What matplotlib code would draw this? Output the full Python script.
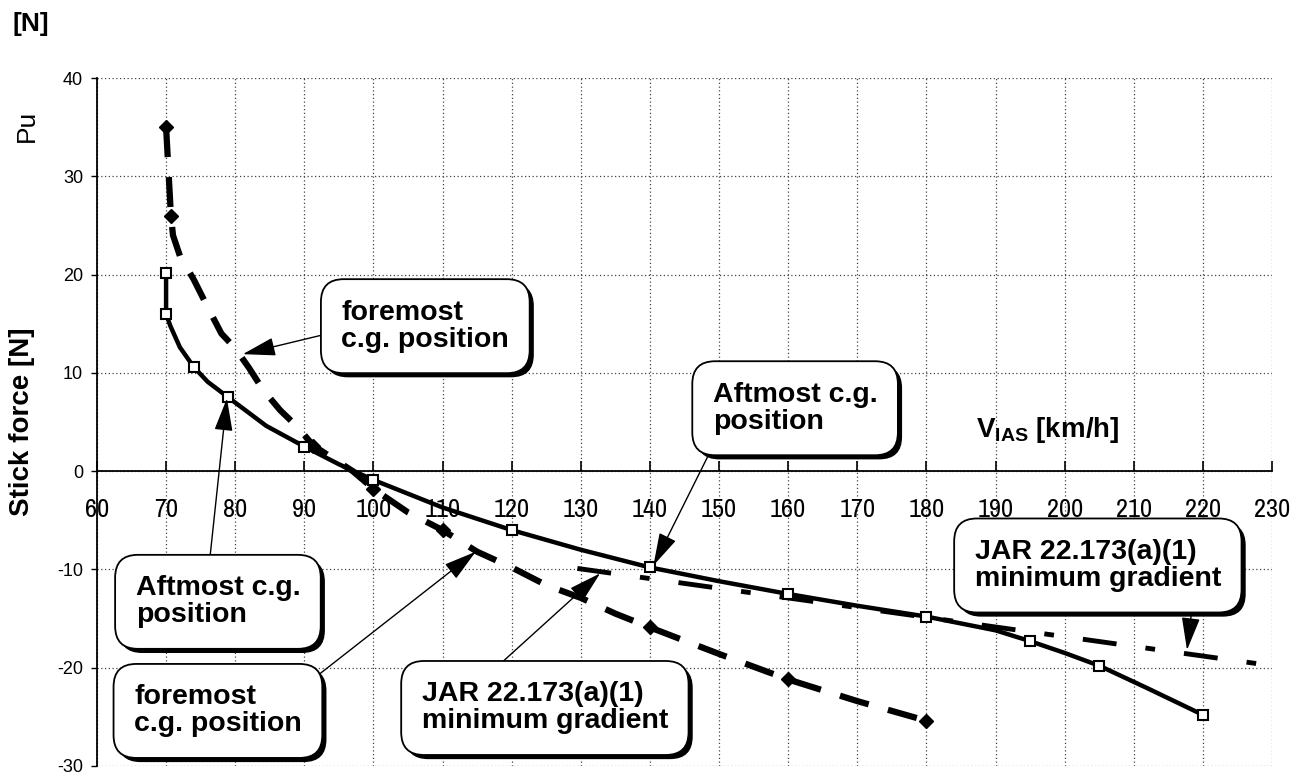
import numpy as np
import matplotlib
matplotlib.use("Agg")
import matplotlib.pyplot as plt
from matplotlib import patheffects

plt.rcParams['font.family'] = ['Liberation Sans', 'DejaVu Sans']
plt.rcParams['axes.unicode_minus'] = False

# aftmost c.g. position (solid line, open squares)
aft_v = [70, 70, 70.6, 72, 74, 76, 79, 84.5, 90, 95, 100, 110, 120, 130, 140,
         150, 160, 170, 180, 190, 195, 200, 205, 212, 220]
aft_f = [20.2, 16.0, 14.8, 12.6, 10.6, 9.1, 7.5, 4.6, 2.5, 0.7, -0.9, -3.7, -6.0,
         -8.0, -9.8, -11.2, -12.5, -13.7, -14.8, -16.2, -17.3, -18.5, -19.8, -22.1, -24.8]
aft_marks = [0, 1, 4, 6, 8, 10, 12, 14, 16, 18, 20, 22, 24]

# foremost c.g. position (heavy dashes, diamonds)
fore_v = [70, 70.7, 71, 72, 74, 76, 78, 80, 82, 84, 86.5, 89, 91.3, 97, 100, 105,
          110, 115, 120, 125, 130, 135, 140, 150, 160, 170, 180]
fore_f = [35.0, 26.0, 24.0, 21.9, 19.5, 16.7, 14.0, 12.5, 10.5, 8.3, 6.2, 4.5, 2.6,
          0.0, -1.8, -4.2, -6.0, -8.2, -9.8, -11.6, -12.9, -14.5, -15.9, -18.6,
          -21.2, -23.4, -25.4]
fore_marks = [0, 1, 12, 14, 16, 22, 24, 26]

# JAR 22.173(a)(1) minimum gradient
jar_v = [129.5, 230]
jar_f = [-9.9, -19.8]

x_ticks = np.arange(60, 231, 10)
y_ticks = np.arange(-30, 41, 10)

fig = plt.figure(figsize=(12.98, 7.77), dpi=100)
ax = fig.add_axes([0.0747, 0.0142, 0.9053, 0.8854])

ax.set_xlim(60, 230)
ax.set_ylim(-30, 40)
ax.set_xticks(x_ticks)
ax.set_yticks(y_ticks)

ax.grid(True, color='#444444', lw=0.9, linestyle=(0, (1, 2)))
for s in ['top', 'right']:
    ax.spines[s].set_visible(False)
ax.spines['bottom'].set_position(('data', 0))
ax.spines['bottom'].set_linewidth(1.3)
ax.spines['left'].set_linewidth(1.3)

ax.tick_params(axis='x', direction='in', length=7, width=1.2, pad=19)
ax.tick_params(axis='y', direction='out', length=4, width=1.0, labelsize=13, pad=6)
for lab in ax.get_xticklabels():
    lab.set_family(['Liberation Sans Narrow', 'Archivo Narrow', 'DejaVu Sans'])
    lab.set_fontstretch('condensed')
    lab.set_fontsize(19)

ax.plot(aft_v, aft_f, color='black', lw=3.2, marker='s', markevery=aft_marks,
        ms=7, mfc='white', mec='black', mew=1.5, zorder=4)
ax.plot(fore_v, fore_f, color='black', lw=4.5, linestyle=(0, (4.8, 3.2)),
        marker='D', markevery=fore_marks, ms=7, mfc='black', mec='black', zorder=3)
ax.plot(jar_v, jar_f, color='black', lw=3.5, linestyle=(0, (7, 6, 2, 6)), zorder=3)

ax.text(197.6, 4.2, r'V$_{\mathregular{IAS}}$ [km/h]', fontsize=20, fontweight='bold',
        ha='center', va='center')

boxes = [
    ("foremost\nc.g. position", (107.5, 14.75), (81.1, 11.9), (0.0, 0.42)),
    ("Aftmost c.g.\nposition", (161.0, 6.4), (140.5, -9.6), (0.05, 0.09)),
    ("Aftmost c.g.\nposition", (77.5, -13.3), (78.8, 7.4), (0.44, 1.0)),
    ("foremost\nc.g. position", (77.5, -24.4), (114.8, -8.2), (0.99, 0.91)),
    ("JAR 22.173(a)(1)\nminimum gradient", (124.8, -24.1), (132.8, -10.4), (0.24, 1.0)),
    ("JAR 22.173(a)(1)\nminimum gradient", (204.8, -9.6), (217.7, -18.2), (0.89, 0.0)),
]
for txt, xytext, xy, rel in boxes:
    ann = ax.annotate(txt, xy=xy, xytext=xytext, fontsize=20.5, fontweight='bold',
                      ha='center', va='center', multialignment='left', linespacing=1.05,
                      bbox=dict(boxstyle='round,pad=0.72,rounding_size=0.8',
                                fc='white', ec='black', lw=1.3),
                      arrowprops=dict(arrowstyle='-|>,head_length=1.0,head_width=0.28',
                                      color='black', lw=1.0, relpos=rel,
                                      shrinkA=0, shrinkB=0),
                      zorder=6)
    ann.get_bbox_patch().set_path_effects([
        patheffects.withSimplePatchShadow(offset=(3, -3), shadow_rgbFace='black', alpha=1.0)])

fig.text(0.024, 0.969, '[N]', fontsize=19, fontweight='bold', ha='center', va='center')
fig.text(0.021, 0.838, 'Pu', fontsize=19, rotation=90, ha='center', va='center')
fig.text(0.017, 0.457, 'Stick force [N]', fontsize=20, fontweight='bold', rotation=90,
         ha='center', va='center')

fig.savefig('out.png', dpi=100)
